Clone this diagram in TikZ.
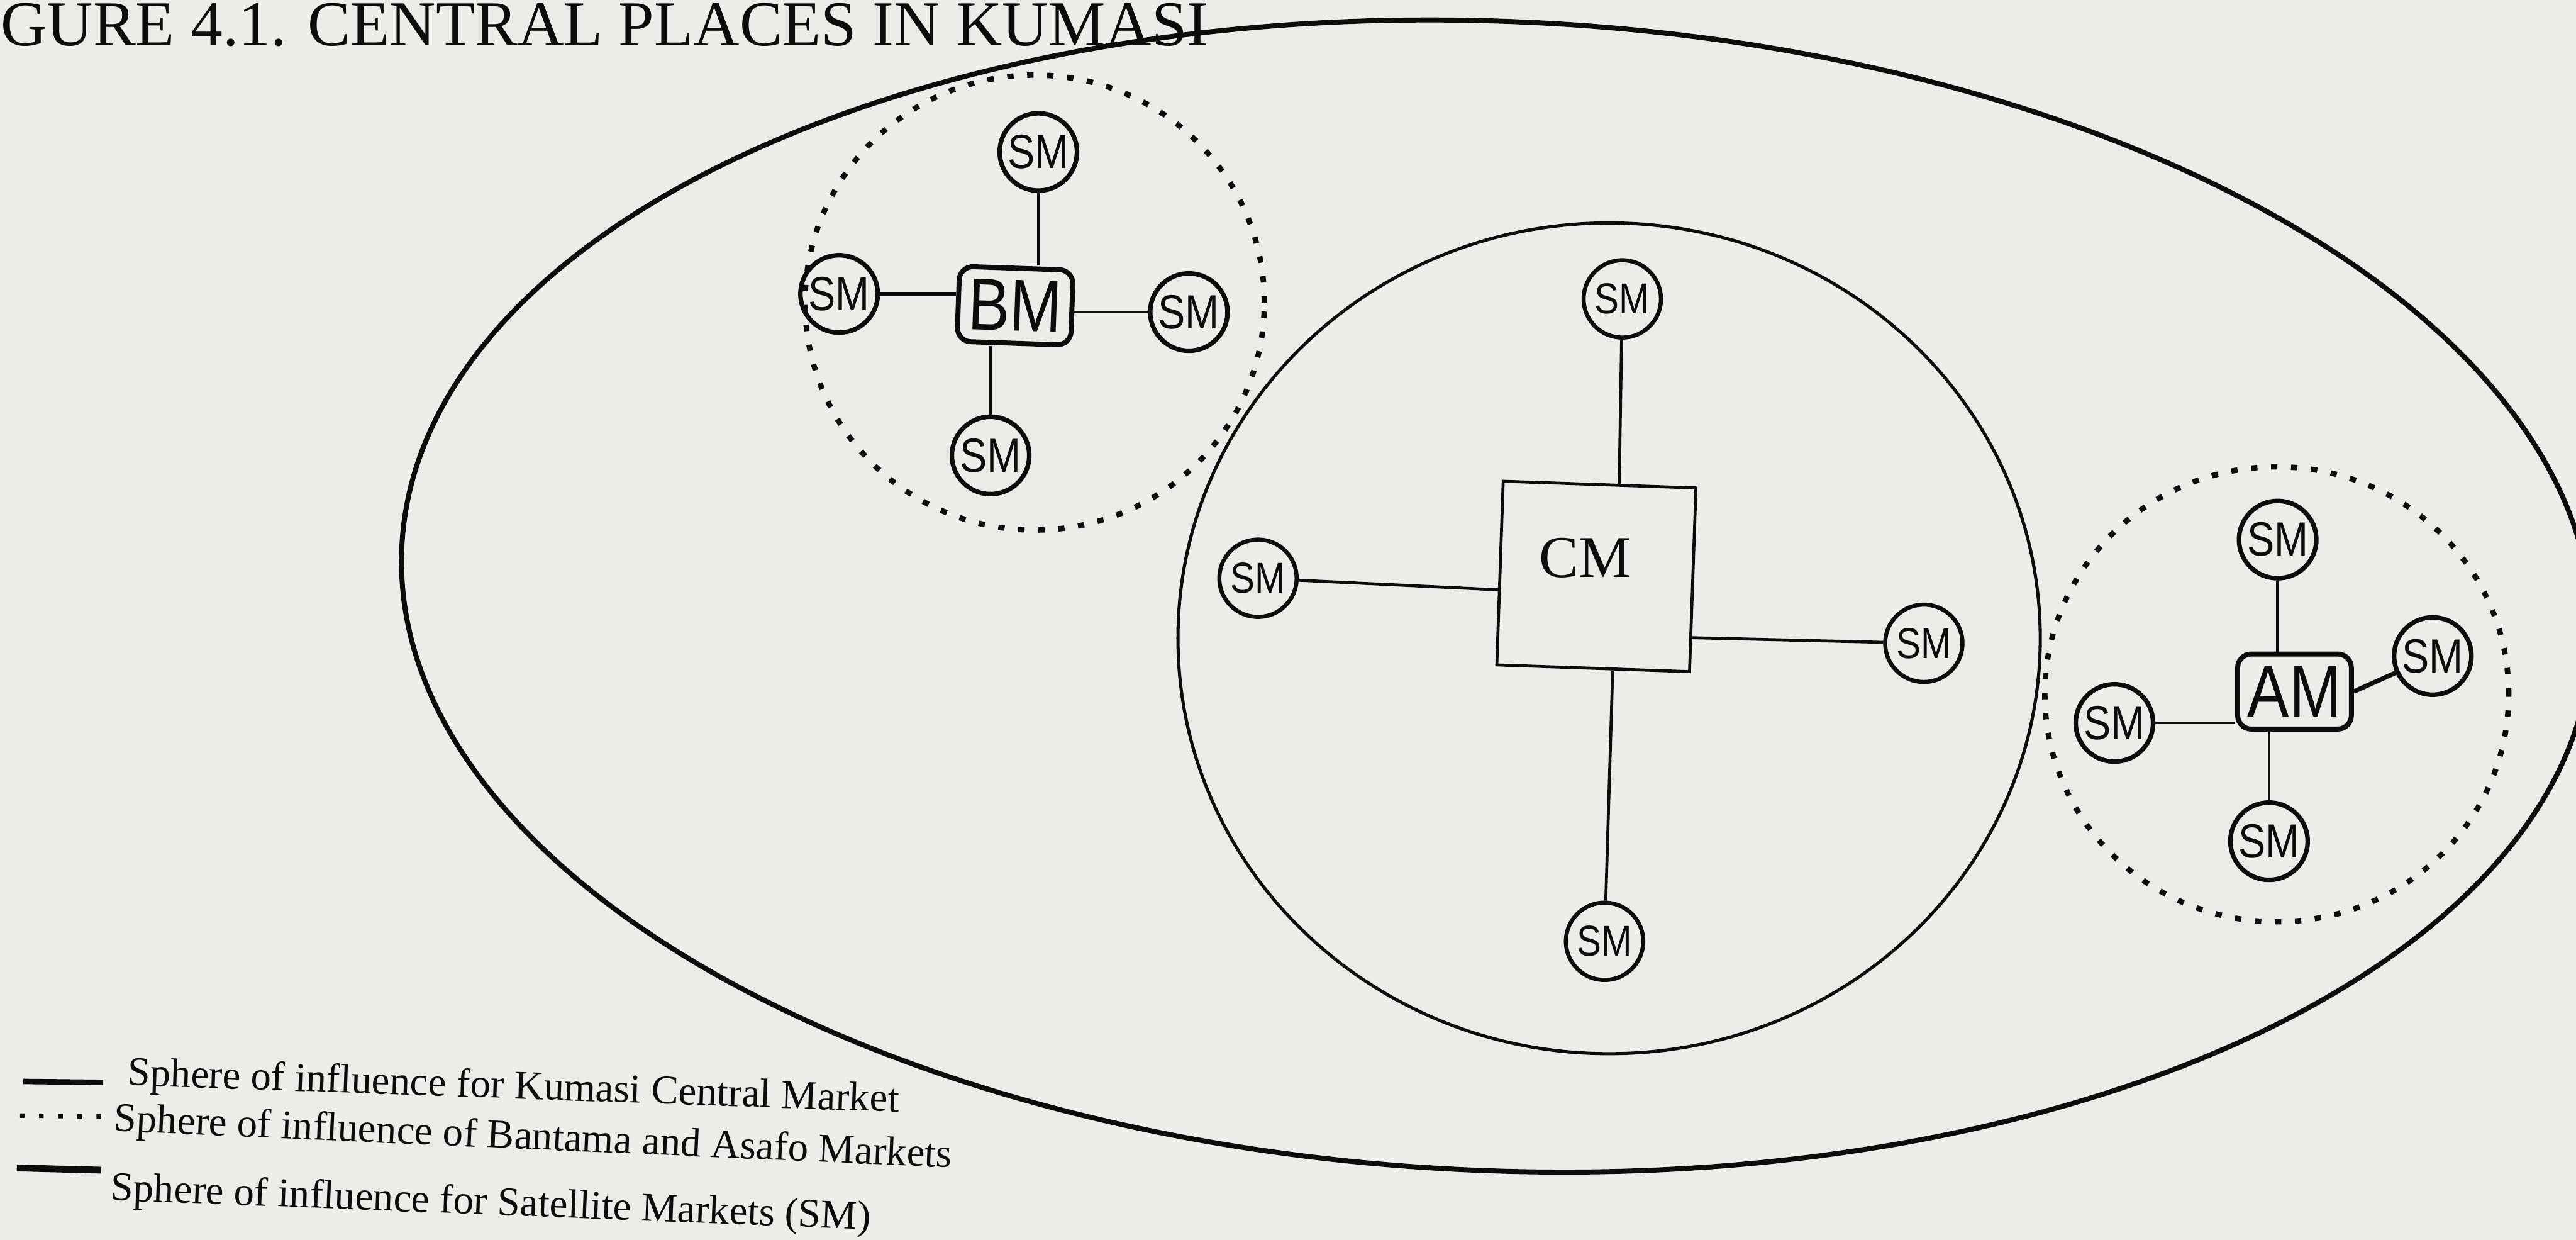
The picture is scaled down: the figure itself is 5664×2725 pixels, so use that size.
\documentclass[tikz,border=0pt]{standalone}
\usepackage{fontspec}
\setmainfont{Liberation Serif}
\newfontfamily\smfont[FakeStretch=0.85]{Liberation Sans}
\usetikzlibrary{calc}
\definecolor{paper}{RGB}{236,236,233}
\definecolor{ink}{RGB}{12,12,12}
\begin{document}
\begin{tikzpicture}[x=0.1mm,y=-0.1mm,
  sm/.style={circle,draw=ink,line width=1mm,minimum size=17mm,inner sep=0pt,text=ink,
    font=\smfont\fontsize{30}{32}\selectfont},
  smc/.style={sm,line width=0.9mm,font=\smfont\fontsize{27}{29}\selectfont},
  hub/.style={rectangle,rounded corners=3mm,draw=ink,line width=1.1mm,minimum width=25mm,
    minimum height=16.5mm,inner sep=0pt,text=ink,font=\smfont\fontsize{46}{48}\selectfont},
  link/.style={draw=ink,line width=0.65mm},
  outerline/.style={draw=ink,line width=1.1mm},
  dotring/.style={draw=ink,line width=1.2mm,dash pattern=on 1.4mm off 3mm},
  legend/.style={anchor=base west,inner sep=0pt,text=ink,font=\fontsize{25.5}{30}\selectfont},
]
\useasboundingbox (0,0) rectangle (5664,2725);
\fill[paper] (0,0) rectangle (5664,2725);

% title
\node[anchor=base east,inner sep=0pt,text=ink,font=\fontsize{40}{44}\selectfont] (title) at (2658,100)
  {GURE 4.1. CENTRAL PLACES IN KUMASI};

% outer sphere (Kumasi)
\draw[outerline,rotate around={-2.5:(3291,1310)}] (3291,1310) ellipse [x radius=241mm, y radius=126.3mm];

% central market sphere
\draw[draw=ink,line width=0.7mm] (3538,1403) ellipse [x radius=94.8mm, y radius=91.3mm];

% dotted spheres
\draw[dotring] (2275,665) ellipse [x radius=50.5mm, y radius=50mm];
\draw[dotring] (5006,1526) ellipse [x radius=51mm, y radius=50mm];

% CM cluster
\node[draw=ink,line width=0.65mm,minimum width=42.4mm,minimum height=40.4mm,rotate=-2,inner sep=0pt] (CM) at (3510,1267) {};
\node[inner sep=0pt,text=ink,font=\fontsize{37}{40}\selectfont] (CMt) at (3486,1226) {CM};
\node[smc] (cT) at (3567,657) {SM};
\node[smc] (cL) at (2766,1271) {SM};
\node[smc] (cR) at (4230,1414) {SM};
\node[smc] (cB) at (3528,2069) {SM};
\draw[link] (cT) -- ($(CM.north west)!0.6!(CM.north east)$);
\draw[link] (cL) -- ($(CM.north west)!0.59!(CM.south west)$);
\draw[link] (cR) -- ($(CM.north east)!0.81!(CM.south east)$);
\draw[link] (cB) -- ($(CM.south west)!0.6!(CM.south east)$);

% BM cluster
\node[hub,rotate=-2] (BM) at (2232,672) {BM};
\node[sm] (bT) at (2283,334) {SM};
\node[sm] (bL) at (1845,646) {SM};
\node[sm] (bR) at (2614,686) {SM};
\node[sm] (bB) at (2178,1001) {SM};
\draw[link] (bT) -- (bT |- BM.north);
\draw[link] (bB) -- (bB |- BM.south);
\draw[link,line width=1mm] (bL) -- (bL -| BM.west);
\draw[link] (bR) -- (bR -| BM.east);

% AM cluster
\node[hub] (AM) at (5045,1520) {AM};
\node[sm] (aT) at (5008,1186) {SM};
\node[sm] (aR) at (5349,1442) {SM};
\node[sm] (aL) at (4649,1589) {SM};
\node[sm] (aB) at (4989,1849) {SM};
\draw[link] (aT) -- (aT |- AM.north);
\draw[link,line width=1mm] (AM.east) -- (aR);
\draw[link] (aL) -- (aL -| AM.west);
\draw[link] (aB) -- (aB |- AM.south);

% legend
\draw[draw=ink,line width=1.2mm] (51,2377) -- (227,2379);
\node[legend,rotate=-2.0] (lg1) at (279,2385) {Sphere of influence for Kumasi Central Market};
\draw[draw=ink,line width=1mm,dash pattern=on 1mm off 3.2mm] (44,2452) -- (222,2454);
\node[legend,rotate=-2.5] (lg2) at (249,2486) {Sphere of influence of Bantama and Asafo Markets};
\draw[draw=ink,line width=1.5mm] (37,2567) -- (222,2572);
\node[legend,rotate=-2.2] (lg3) at (242,2638) {Sphere of influence for Satellite Markets (SM)};
\end{tikzpicture}
\end{document}
